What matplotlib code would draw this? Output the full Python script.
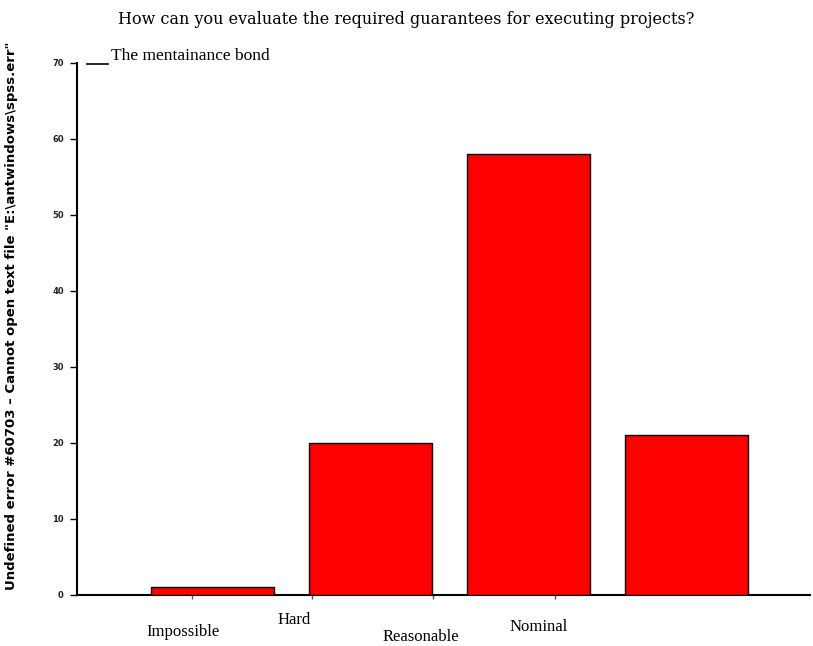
import matplotlib
matplotlib.use("Agg")
import matplotlib.pyplot as plt
from matplotlib.lines import Line2D

categories = ["Impossible", "Hard", "Reasonable", "Nominal"]
values = [1, 20, 58, 21]
yticks = [0, 10, 20, 30, 40, 50, 60, 70]

title = "How can you evaluate the required guarantees for executing projects?"
subtitle = "The mentainance bond"
ylabel = 'Undefined error #60703 \u2013 Cannot open text file "E:\\antwindows\\spss.err"'

W, H = 813, 646
fig = plt.figure(figsize=(W / 100, H / 100), dpi=100)
ax = fig.add_axes([77 / W, 51 / H, (810 - 77) / W, (595 - 63) / H])

x = list(range(len(categories)))
ax.bar(x, values, width=0.777, color="#ff0000", edgecolor="black", linewidth=1.0, zorder=3)

ax.set_xlim(-0.853, 3.777)
ax.set_ylim(0, 70)

for s in ["top", "right"]:
    ax.spines[s].set_visible(False)
for s in ["left", "bottom"]:
    ax.spines[s].set_linewidth(1.5)
    ax.spines[s].set_color("black")

ax.set_yticks(yticks)
ax.set_yticklabels([str(t) for t in yticks], fontsize=6, fontweight="bold",
                   family="DejaVu Sans", color="#222222")
ax.tick_params(axis="y", direction="out", length=5, width=1, pad=4.5)

# x tick marks (offset from bars as in the reference)
ax.set_xticks([-0.126, 0.632, 1.396, 2.167])
ax.set_xticklabels([])
ax.tick_params(axis="x", direction="out", length=3, width=1, color="#555555")

# category labels at staggered positions (data x, pixel y)
label_pos = [(-0.183, 632), (0.518, 620), (1.32, 637), (2.06, 627)]
for cat, (lx, py) in zip(categories, label_pos):
    ax.text(lx, -(py - 595) / (595 - 63), cat, transform=ax.get_xaxis_transform(),
            ha="center", va="center", fontsize=12, family="Liberation Serif")

fig.text(406 / W, 1 - 20 / H, title, ha="center", va="center", fontsize=11.5,
         family="DejaVu Serif")
fig.text(111 / W, 1 - 56 / H, subtitle, ha="left", va="center", fontsize=12.5,
         family="Liberation Serif")
fig.add_artist(Line2D([87 / W, 108 / W], [1 - 64 / H, 1 - 64 / H], color="black",
                      linewidth=1.2, transform=fig.transFigure))

fig.text(12 / W, 1 - 316 / H, ylabel, rotation=90, ha="center", va="center",
         fontsize=9.5, fontweight="bold", family="DejaVu Sans")

fig.savefig("out.png", dpi=100)
